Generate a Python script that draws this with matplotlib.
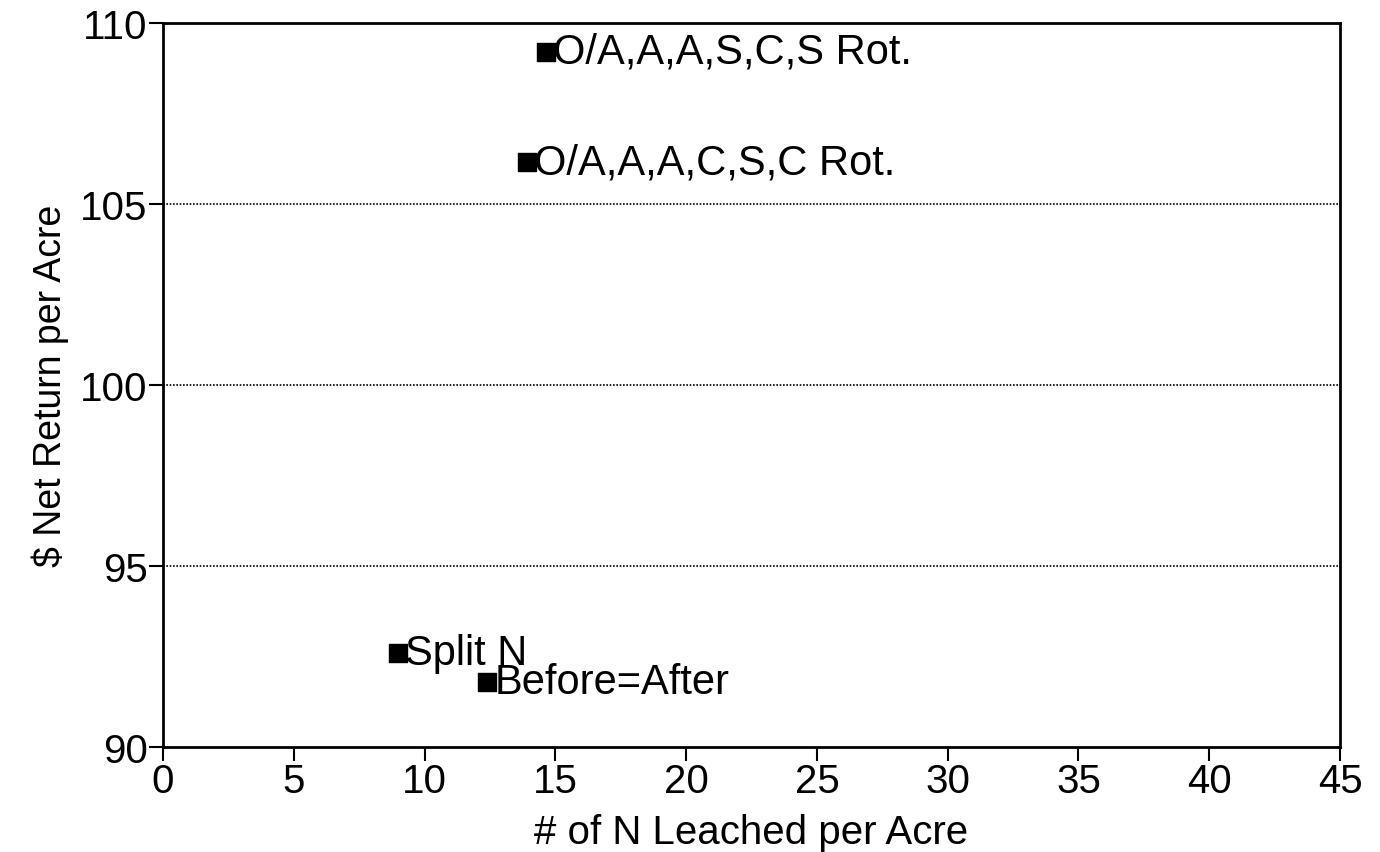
import matplotlib.pyplot as plt

plt.rcParams['font.family'] = ['Liberation Sans', 'DejaVu Sans']

# data
labels = ['O/A,A,A,S,C,S Rot.', 'O/A,A,A,C,S,C Rot.', 'Split N', 'Before=After']
n_leached = [14.65, 13.9, 9.0, 12.4]
net_return = [109.2, 106.15, 92.6, 91.8]

x_ticks = [0, 5, 10, 15, 20, 25, 30, 35, 40, 45]
y_ticks = [90, 95, 100, 105, 110]

fig = plt.figure(figsize=(13.8, 8.53), dpi=100)
ax = fig.add_axes([163 / 1380, 1 - 748 / 853, 1177 / 1380, 724 / 853])

ax.scatter(n_leached, net_return, marker='s', s=150, color='black', zorder=3)
for lab, x, y in zip(labels, n_leached, net_return):
    ax.annotate(lab, (x, y), xytext=(5, 0), textcoords='offset points',
                va='center', ha='left', fontsize=30)

ax.set_xlim(0, 45)
ax.set_ylim(90, 110)
ax.set_xticks(x_ticks)
ax.set_yticks(y_ticks)
ax.tick_params(labelsize=29, length=10, width=1.5, direction='out', pad=1)
for sp in ax.spines.values():
    sp.set_linewidth(2)

for v in y_ticks[1:-1]:
    ax.axhline(v, color='black', linestyle=(0, (1, 1)), linewidth=1.2, zorder=1)

ax.set_xlabel('# of N Leached per Acre', fontsize=29, labelpad=9)
ax.set_ylabel('$ Net Return per Acre', fontsize=27, labelpad=8)

fig.savefig('out.png', dpi=100)
